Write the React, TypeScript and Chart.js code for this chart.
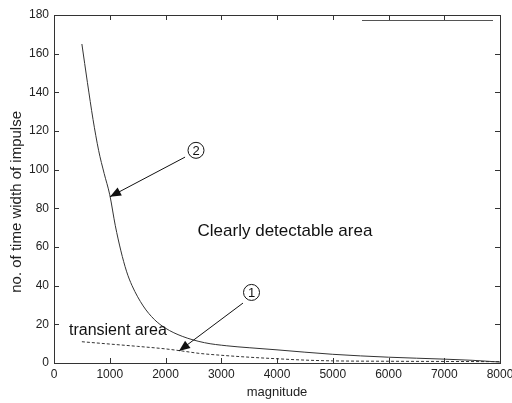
import React, { useEffect, useRef } from "react";
import { Chart, registerables } from "chart.js";

Chart.register(...registerables);

const solidX = [500, 600, 700, 800, 900, 1000, 1100, 1200, 1300, 1400, 1600, 1800, 2000, 2300, 2700, 3100, 3500, 4000, 4500, 5000, 6000, 7000, 7500, 8000];
const solidY = [165, 145, 126, 110, 98, 87, 71, 58, 47.5, 40, 29.5, 22.5, 18, 13.8, 10.5, 8.9, 7.9, 6.8, 5.6, 4.5, 3, 2, 1.4, 0.5];
const dashedX = [500, 1000, 1500, 2000, 2300, 2600, 3000, 3500, 4000, 4500, 5000, 6000, 7000, 8000];
const dashedY = [11, 9.8, 8.6, 7.3, 6.2, 5, 4, 3, 2.2, 1.5, 1.1, 0.9, 0.8, 0.7];
const xTicks = [0, 1000, 2000, 3000, 4000, 5000, 6000, 7000, 8000];
const yTicks = [0, 20, 40, 60, 80, 100, 120, 140, 160, 180];
const yTitle = "no. of time width of impulse";

const FONT = "Arial, 'Liberation Sans', sans-serif";

const decor = {
  id: "decor",
  afterDraw(chart: any) {
    const ctx = chart.ctx;
    const { left, right, top, bottom } = chart.chartArea;
    const xs = chart.scales.x;
    const ys = chart.scales.y;
    ctx.save();
    ctx.strokeStyle = "#333";
    ctx.lineWidth = 1;
    ctx.strokeRect(Math.round(left) + 0.5, Math.round(top) + 0.5, Math.round(right - left), Math.round(bottom - top));
    ctx.beginPath();
    for (const v of xTicks) {
      const px = Math.round(xs.getPixelForValue(v)) + 0.5;
      ctx.moveTo(px, bottom);
      ctx.lineTo(px, bottom - 5);
      ctx.moveTo(px, top);
      ctx.lineTo(px, top + 5);
    }
    for (const v of yTicks) {
      const py = Math.round(ys.getPixelForValue(v)) + 0.5;
      ctx.moveTo(left, py);
      ctx.lineTo(left + 5, py);
      ctx.moveTo(right, py);
      ctx.lineTo(right - 5, py);
    }
    ctx.stroke();
    // empty legend line remnant
    ctx.strokeStyle = "#555";
    ctx.beginPath();
    ctx.moveTo(right - 138, Math.round(top) + 5.5);
    ctx.lineTo(right - 7, Math.round(top) + 5.5);
    ctx.stroke();

    // y axis title
    ctx.fillStyle = "#222";
    ctx.font = `15px ${FONT}`;
    ctx.textAlign = "center";
    ctx.textBaseline = "middle";
    ctx.save();
    ctx.translate(left - 37, top + (bottom - top) * 0.537);
    ctx.rotate(-Math.PI / 2);
    ctx.fillText(yTitle, 0, 0);
    ctx.restore();

    const P = (x: number, y: number) => [xs.getPixelForValue(x), ys.getPixelForValue(y)];
    ctx.fillStyle = "#111";
    ctx.font = `17px ${FONT}`;
    ctx.textBaseline = "middle";
    ctx.textAlign = "center";
    let [tx, ty] = P(4143, 68);
    ctx.fillText("Clearly detectable area", tx, ty);
    ctx.textAlign = "left";
    ctx.font = `16px ${FONT}`;
    [tx, ty] = P(269, 17);
    ctx.fillText("transient area", tx, ty);

    const circ = (x: number, y: number, s: string) => {
      const [cx, cy] = P(x, y);
      ctx.beginPath();
      ctx.arc(cx, cy, 8, 0, Math.PI * 2);
      ctx.strokeStyle = "#111";
      ctx.stroke();
      ctx.font = `13px ${FONT}`;
      ctx.textAlign = "center";
      ctx.fillText(s, cx, cy + 1);
    };
    circ(2547, 110, "2");
    circ(3543, 36.5, "1");

    const arrow = (x1: number, y1: number, x2: number, y2: number) => {
      const [ax, ay] = P(x1, y1);
      const [bx, by] = P(x2, y2);
      ctx.strokeStyle = "#111";
      ctx.fillStyle = "#111";
      ctx.beginPath();
      ctx.moveTo(ax, ay);
      ctx.lineTo(bx, by);
      ctx.stroke();
      const a = Math.atan2(by - ay, bx - ax);
      const L = 11, W = 4.5;
      ctx.beginPath();
      ctx.moveTo(bx, by);
      ctx.lineTo(bx - L * Math.cos(a) + W * Math.sin(a), by - L * Math.sin(a) - W * Math.cos(a));
      ctx.lineTo(bx - L * Math.cos(a) - W * Math.sin(a), by - L * Math.sin(a) + W * Math.cos(a));
      ctx.closePath();
      ctx.fill();
    };
    arrow(2351, 106.5, 1004, 86);
    arrow(3390, 31, 2242, 6.2);
    ctx.restore();
  },
};

export default function App() {
  const ref = useRef<HTMLCanvasElement>(null);
  useEffect(() => {
    if (!ref.current) return;
    const chart = new Chart(ref.current, {
      type: "line",
      data: {
        datasets: [
          {
            data: solidX.map((x, i) => ({ x, y: solidY[i] })),
            borderColor: "#333",
            borderWidth: 1,
            pointRadius: 0,
            cubicInterpolationMode: "monotone",
            fill: false,
          },
          {
            data: dashedX.map((x, i) => ({ x, y: dashedY[i] })),
            borderColor: "#333",
            borderWidth: 1,
            borderDash: [3, 2],
            pointRadius: 0,
            cubicInterpolationMode: "monotone",
            fill: false,
          },
        ],
      },
      options: {
        animation: false,
        responsive: false,
        layout: { padding: { top: 15, right: 0, left: 0, bottom: 0 } },
        plugins: { legend: { display: false }, tooltip: { enabled: false } },
        scales: {
          x: {
            type: "linear",
            min: 0,
            max: 8000,
            grid: { display: false, drawTicks: false },
            border: { display: false },
            ticks: { stepSize: 1000, color: "#222", font: { family: FONT, size: 12 }, padding: 4, maxRotation: 0, autoSkip: false, callback: (v: any) => String(v) },
            title: { display: true, text: "magnitude", color: "#222", font: { family: FONT, size: 13 }, padding: { top: 2, bottom: 3 } },
            afterFit: (s: any) => { s.height = 40; s.paddingRight = 12; s.paddingLeft = 0; },
          },
          y: {
            type: "linear",
            min: 0,
            max: 180,
            grid: { display: false, drawTicks: false },
            border: { display: false },
            ticks: { stepSize: 20, color: "#222", font: { family: FONT, size: 12 }, padding: 5, callback: (v: any) => String(v) },
            title: { display: false },
            afterFit: (s: any) => { s.width = 54; s.paddingTop = 0; s.paddingBottom = 0; },
          },
        },
      },
      plugins: [decor],
    });
    return () => chart.destroy();
  }, []);
  return (
    <div style={{ position: "absolute", left: 0, top: 0, width: 512, height: 403, background: "#fff" }}>
      <canvas ref={ref} width={512} height={403} />
    </div>
  );
}
